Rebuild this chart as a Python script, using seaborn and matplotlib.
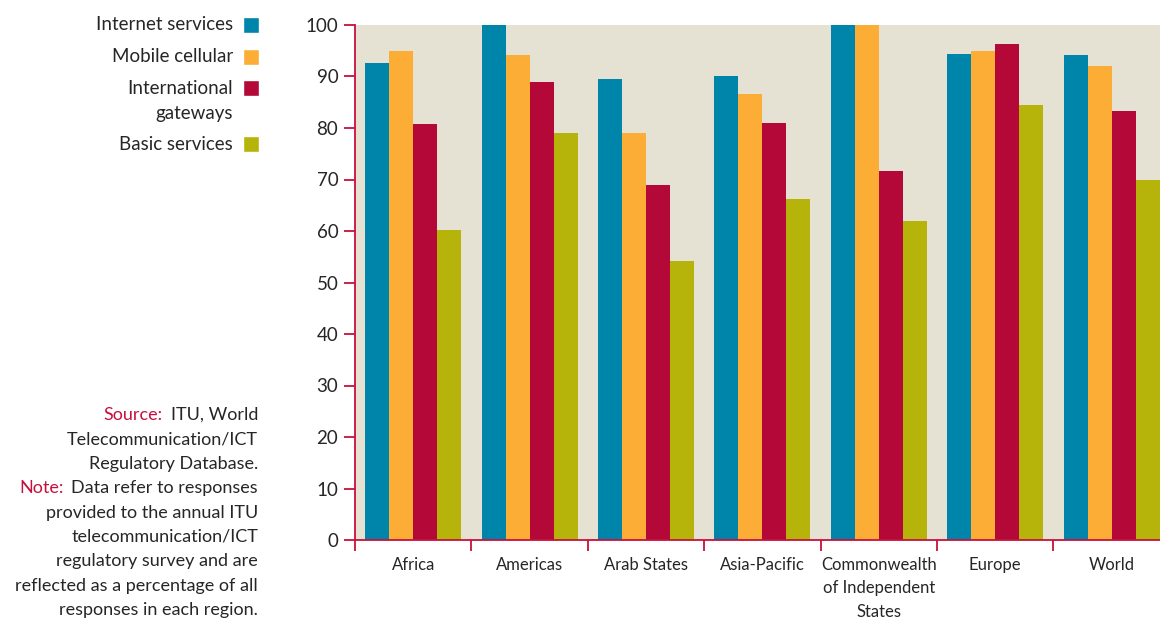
import matplotlib
matplotlib.use("Agg")
import matplotlib.pyplot as plt
from matplotlib.patches import Rectangle
import pandas as pd
import seaborn as sns

regions = ["Africa", "Americas", "Arab States", "Asia-Pacific",
           "Commonwealth\nof Independent\nStates", "Europe", "World"]
internet = [92.6, 100.0, 89.5, 90.1, 100.0, 94.4, 94.2]
mobile = [95.0, 94.2, 79.0, 86.6, 100.0, 95.0, 92.0]
gateways = [80.8, 88.9, 68.9, 81.0, 71.7, 96.3, 83.3]
basic = [60.2, 79.0, 54.2, 66.2, 61.9, 84.5, 69.9]

services = ["Internet services", "Mobile cellular", "International\ngateways", "Basic services"]
colors = ["#0085AA", "#FBAD35", "#B30838", "#B6B30A"]
red = "#C8103E"

rows = []
for name, vals in zip(services, [internet, mobile, gateways, basic]):
    for r, v in zip(regions, vals):
        rows.append({"region": r, "service": name, "value": v})
df = pd.DataFrame(rows)

sns.set_style("white")
plt.rcParams["font.family"] = ["Lato", "DejaVu Sans"]

fig = plt.figure(figsize=(11.6, 6.19), dpi=100)
ax = fig.add_axes([355 / 1160, 1 - 540 / 619, 1 - 355 / 1160, (540 - 25) / 619])

sns.barplot(data=df, x="region", y="value", hue="service", order=regions,
            hue_order=services, palette=colors, saturation=1, width=0.825,
            linewidth=0, edgecolor="none", ax=ax, legend=False)

ax.set_facecolor("#E6E2D3")
ax.set_xlim(-0.5, 6.416)
ax.set_ylim(0, 100)
ax.set_yticks(range(0, 101, 10))
ax.set_xlabel("")
ax.set_ylabel("")
for s in ["top", "right"]:
    ax.spines[s].set_visible(False)
for s in ["left", "bottom"]:
    ax.spines[s].set_color(red)
    ax.spines[s].set_linewidth(1.3)

ax.tick_params(axis="y", which="major", length=8, width=1.3, color=red,
               labelsize=13.5, pad=4, left=True)
ax.tick_params(axis="x", which="major", length=0, labelsize=12, pad=12)
ax.set_xticks([i - 0.5 for i in range(7)], minor=True)
ax.tick_params(axis="x", which="minor", length=8, width=1.3, color=red, bottom=True)
for lab in ax.get_xticklabels():
    lab.set_linespacing(1.58)

# legend drawn at left, labels right-aligned
leg_y = [25, 57, 88, 144]
for name, c, y in zip(services, colors, leg_y):
    if "\n" in name:
        fig.text(233 / 1160, 1 - (y - 8) / 619, name, ha="right", va="top",
                 fontsize=13.5, multialignment="right", linespacing=1.55)
    else:
        fig.text(233 / 1160, 1 - y / 619, name, ha="right", va="center", fontsize=13.5)
    fig.patches.append(Rectangle((243 / 1160, 1 - (y + 8) / 619), 16 / 1160, 16 / 619,
                                 facecolor=c, transform=fig.transFigure, figure=fig))

# source & note
lines = [("Source:", "ITU, World"), (None, "Telecommunication/ICT"),
         (None, "Regulatory Database."), ("Note:", "Data refer to responses"),
         (None, "provided to the annual ITU"), (None, "telecommunication/ICT"),
         (None, "regulatory survey and are"), (None, "reflected as a percentage of all"),
         (None, "responses in each region.")]
fig.canvas.draw()
renderer = fig.canvas.get_renderer()
y0 = 415
for i, (pre, txt) in enumerate(lines):
    yy = 1 - (y0 + i * 24.4) / 619
    t = fig.text(258 / 1160, yy, txt, ha="right", va="center", fontsize=13)
    if pre:
        bb = t.get_window_extent(renderer)
        fig.text((bb.x0 - 8) / 1160, yy, pre, ha="right", va="center",
                 fontsize=13, color=red)

fig.savefig("out.png", dpi=100)
